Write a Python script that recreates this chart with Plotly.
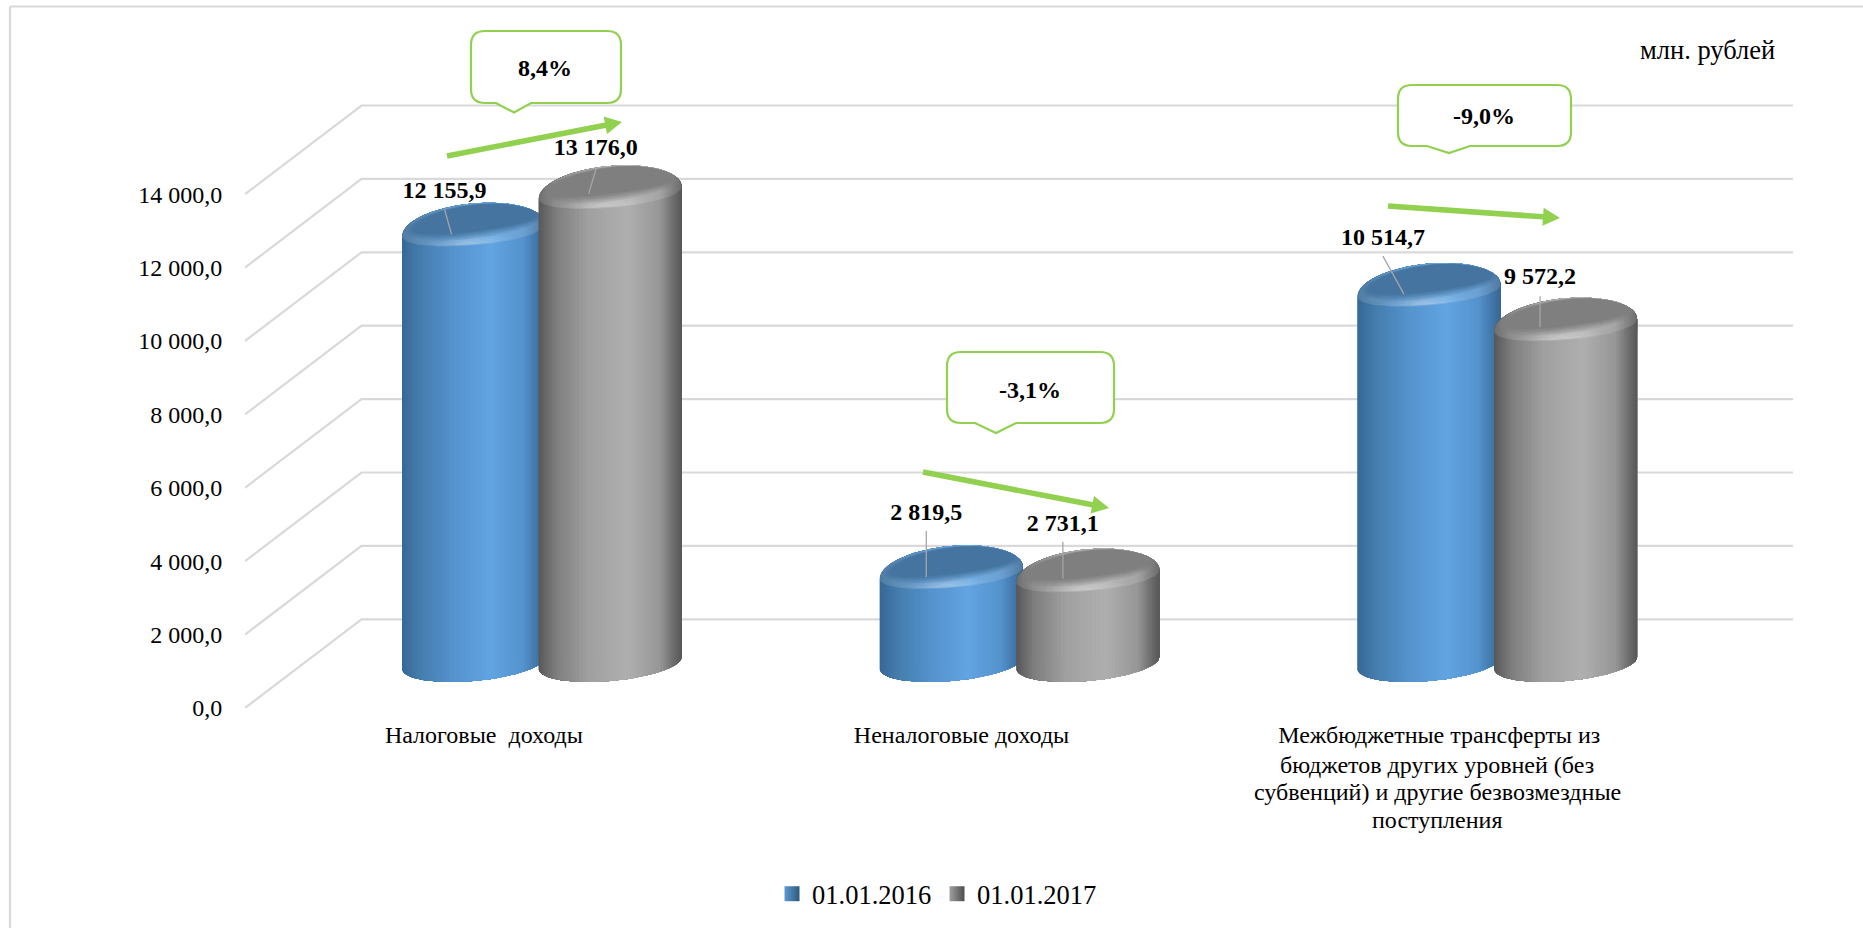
import math
import plotly.graph_objects as go

# ---------- data ----------
category_lines = [["Налоговые\u00a0 доходы"], ["Неналоговые доходы"],
                  ["Межбюджетные трансферты из", "бюджетов других уровней (без",
                   "субвенций) и другие безвозмездные", "поступления"]]
series_names = ["01.01.2016", "01.01.2017"]
values_2016 = [12155.9, 2819.5, 10514.7]
values_2017 = [13176.0, 2731.1, 9572.2]
changes = ["8,4%", "-3,1%", "-9,0%"]
y_ticks = [0, 2000, 4000, 6000, 8000, 10000, 12000, 14000]
unit_label = "млн. рублей"

# ---------- geometry / style (pixels of the page) ----------
W, H = 1863, 928
L, R, T, B = 245, 70, 100, 220
PW, PH = W - L - R, H - T - B
PX_CAT = 477.7          # pixels per category
PX_VAL = 0.0367         # pixels per value unit
FONT = "Liberation Serif"
GRID = "#D9D9D9"
GREEN = "#92D050"
DEPTH_X, DEPTH_Y = 116.5, 88.7
BAR_SHIFT, BAR_OFF, A = 58, 68.3, 71.5
BASE_DROP, TOP_DROP = 45, 37.5
TILT = 6
LINE_STEP = 27.7

def fmt(v):
    return f"{v:,.1f}".replace(",", " ").replace(".", ",")

def dx(px):   # page px -> x data
    return (px - L) / PX_CAT - 0.5

def dy(py):   # page py -> y data
    return (H - B - py) / PX_VAL

def cx_px(c, sign):
    return L + (c + 0.5) * PX_CAT + BAR_SHIFT + sign * BAR_OFF

def paper(px, py):
    return (px - L) / PW, 1 - (py - T) / PH

def lerp(c1, c2, t):
    return tuple(c1[i] + (c2[i] - c1[i]) * t for i in range(3))

def ramp(stops, u):
    for (u0, c0), (u1, c1) in zip(stops, stops[1:]):
        if u <= u1:
            return lerp(c0, c1, (u - u0) / (u1 - u0))
    return stops[-1][1]

def rgb(c):
    return "rgb(%d,%d,%d)" % tuple(round(x) for x in c)

STYLE = [
    dict(stops=[(0, (54, 104, 150)), (0.12, (68, 124, 172)), (0.35, (84, 146, 204)), (0.62, (97, 164, 226)),
                (0.85, (84, 146, 204)), (0.95, (64, 116, 165)), (1, (56, 104, 148))],
         dark="#44749F", legend=("#5B9BD5", "#2F5878")),
    dict(stops=[(0, (88, 88, 88)), (0.12, (125, 125, 125)), (0.35, (160, 160, 160)), (0.62, (175, 175, 175)),
                (0.85, (150, 150, 150)), (0.95, (105, 105, 105)), (1, (88, 88, 88))],
         dark="#7F7F7F", legend=("#A0A0A0", "#4D4D4D")),
]
LABEL_OFFSET = [[(-29, -32), (-25, -53), (-46, -45.5)],
                [(-14.5, -38), (-25, -45.5), (-25.5, -41)]]
LEADER = [[((-29, -15), (-22, 10)), ((-25, -36), (-25, 10)), ((-46, -28.5), (-25, 9.5))],
          [((-13.5, -20), (-21.5, 7)), ((-25, -28.5), (-25, 8.5)), ((-25.5, -23), (-25.5, 8))]]

N = 56
grid_u = [-math.cos(math.pi * i / N) for i in range(N + 1)]

def root(u):
    return math.sqrt(max(0, 1 - u * u))

fig = go.Figure()

# walls: front tick -> back wall -> right end
for v in y_ticks:
    xs = [-0.5, dx(L + DEPTH_X), dx(L + PW)]
    ys = [v, v + DEPTH_Y / PX_VAL, v + DEPTH_Y / PX_VAL]
    fig.add_trace(go.Scatter(x=xs, y=ys, mode="lines", line=dict(color=GRID, width=2.2),
                             hoverinfo="skip", showlegend=False, cliponaxis=False))

def poly(xs, ys, color, opacity=1):
    fig.add_trace(go.Scatter(x=[dx(p) for p in xs], y=[dy(p) for p in ys], mode="lines",
                             fill="toself", fillcolor=color, line=dict(width=0),
                             opacity=opacity, hoverinfo="skip", showlegend=False))

def cylinder(cx, value, st):
    yc = H - B - TOP_DROP - value * PX_VAL
    cs = yc + 6
    base = H - B - BASE_DROP
    up = lambda u: cs - 27 * root(u) - TILT * u
    low = lambda u: cs + 15 * root(u) - TILT * u
    bot = lambda u: base + 18 * root(u) - TILT * u
    # body, painted left to right so that every strip runs under the next one
    for i in range(N):
        us = grid_u[i:]
        xs = [cx + A * u for u in us] + [cx + A * u for u in reversed(us)]
        ys = [up(u) for u in us] + [bot(u) for u in reversed(us)]
        poly(xs, ys, rgb(ramp(st["stops"], (grid_u[i] + grid_u[i + 1] + 2) / 4)))
    # rim of the lid, lighter than the body's dark edges
    poly([cx + A * u for u in grid_u] + [cx + A * u for u in reversed(grid_u)],
         [up(u) for u in grid_u] + [low(u) for u in reversed(grid_u)], "#FFFFFF", 0.13)
    # soft highlight along the front rim
    for half, thick, op in ((0.62, 10, 0.05), (0.48, 8, 0.06), (0.34, 6, 0.08), (0.2, 4, 0.10)):
        hl = [-0.08 - half + 2 * half * i / 30 for i in range(31)]
        poly([cx + A * u for u in hl] + [cx + A * u for u in reversed(hl)],
             [low(u) - 1 for u in hl] +
             [low(u) - 1 - thick * math.sin(math.pi * (u + 0.08 + half) / (2 * half)) for u in reversed(hl)],
             "#FFFFFF", op)
    # darker lid, nested layers fade its edge; each stays inside the silhouette
    for grow, op in ((8, 0.2), (6, 0.25), (4, 0.35), (2, 0.5), (0, 1)):
        f = 0.86 + 0.9 * grow / A
        xs, ys = [], []
        for u in grid_u:
            w = 1 + (u * f) / 1 - 1
            xs.append(cx + 1 + A * f * u)
            ys.append(max(cs - 7 - (18.5 + grow * 0.18) * root(u) - 8.5 * w, up(w) + 0.6))
        for u in reversed(grid_u):
            w = u * f
            xs.append(cx + 1 + A * f * u)
            ys.append(max(cs - 7 + (8 + grow * 0.9) * root(u) - 8.5 * w, up(w) + 0.6))
        poly(xs, ys, st["dark"], op)

for c in range(len(category_lines)):
    cylinder(cx_px(c, -1), values_2016[c], STYLE[0])
    cylinder(cx_px(c, 1), values_2017[c], STYLE[1])

# leader lines and value labels
for s, vals in enumerate((values_2016, values_2017)):
    sign = -1 if s == 0 else 1
    lab_x, lab_y, lab_t = [], [], []
    for c, v in enumerate(vals):
        cx = cx_px(c, sign)
        yc = H - B - TOP_DROP - v * PX_VAL
        (a, b) = LEADER[s][c]
        fig.add_trace(go.Scatter(x=[dx(cx + a[0]), dx(cx + b[0])], y=[dy(yc + a[1]), dy(yc + b[1])],
                                 mode="lines", line=dict(color="#A6A6A6", width=1.3),
                                 hoverinfo="skip", showlegend=False))
        ox, oy = LABEL_OFFSET[s][c]
        lab_x.append(dx(cx + ox)); lab_y.append(dy(yc + oy)); lab_t.append(fmt(v))
    fig.add_trace(go.Scatter(x=lab_x, y=lab_y, text=["<b>%s</b>" % t for t in lab_t], mode="text",
                             textposition="middle center", cliponaxis=False,
                             textfont=dict(family=FONT, size=24, color="#000000"),
                             hoverinfo="skip", showlegend=False))

# legend entries
for name, st in zip(series_names, STYLE):
    fig.add_trace(go.Scatter(x=[None], y=[None], mode="markers", name=name,
                             marker=dict(symbol="square", size=15, color=st["legend"][0],
                                         gradient=dict(type="horizontal", color=st["legend"][1]),
                                         line=dict(width=0))))

# ---------- callouts, arrows, frame ----------
def pt(px, py):
    a, b = paper(px, py)
    return f"{a:.5f},{b:.5f}"

def callout(x0, y0, x1, y1, t0, t1, tipx, tipy, r=14):
    return ("M" + pt(x0 + r, y0) + " L" + pt(x1 - r, y0) + " Q" + pt(x1, y0) + " " + pt(x1, y0 + r) +
            " L" + pt(x1, y1 - r) + " Q" + pt(x1, y1) + " " + pt(x1 - r, y1) +
            " L" + pt(t1, y1) + " L" + pt(tipx, tipy) + " L" + pt(t0, y1) +
            " L" + pt(x0 + r, y1) + " Q" + pt(x0, y1) + " " + pt(x0, y1 - r) +
            " L" + pt(x0, y0 + r) + " Q" + pt(x0, y0) + " " + pt(x0 + r, y0) + " Z")

def arrow(x0, y0, x1, y1, w=5.5, hw=18, hl=17):
    ln = math.hypot(x1 - x0, y1 - y0)
    ux, uy = (x1 - x0) / ln, (y1 - y0) / ln
    nx, ny = -uy, ux
    bx, by = x1 - ux * hl, y1 - uy * hl
    P = [(x0 + nx * w / 2, y0 + ny * w / 2), (bx + nx * w / 2, by + ny * w / 2),
         (bx + nx * hw / 2, by + ny * hw / 2), (x1, y1), (bx - nx * hw / 2, by - ny * hw / 2),
         (bx - nx * w / 2, by - ny * w / 2), (x0 - nx * w / 2, y0 - ny * w / 2)]
    return "M" + " L".join(pt(a, b) for a, b in P) + " Z"

BOXES = [(471, 31, 621, 103, 496, 531, 514, 112.5, 545, 68),
         (947, 352, 1114, 423, 975, 1016, 996, 433, 1030, 390),
         (1398, 85, 1571, 146, 1427, 1470, 1449, 153, 1484, 116)]
ARROWS = [(447, 156, 622, 122), (923, 472, 1109, 508), (1388, 206, 1560, 218)]

shapes, notes = [], []
for (x0, y0, x1, y1, t0, t1, tx, ty, lx, ly), txt, ar in zip(BOXES, changes, ARROWS):
    shapes.append(dict(type="path", xref="paper", yref="paper", path=callout(x0, y0, x1, y1, t0, t1, tx, ty),
                       fillcolor="#FFFFFF", line=dict(color=GREEN, width=2.2), layer="above"))
    shapes.append(dict(type="path", xref="paper", yref="paper", path=arrow(*ar),
                       fillcolor=GREEN, line=dict(width=0), layer="above"))
    ax, ay = paper(lx, ly)
    notes.append(dict(xref="paper", yref="paper", x=ax, y=ay, text="<b>%s</b>" % txt, showarrow=False,
                      xanchor="center", yanchor="middle", font=dict(family=FONT, size=24, color="#000")))
ax, ay = paper(1707, 50)
notes.append(dict(xref="paper", yref="paper", x=ax, y=ay, text=unit_label, showarrow=False,
                  xanchor="center", yanchor="middle", font=dict(family=FONT, size=26.5, color="#000")))
# continuation lines of the long category label (tick text cannot tighten its line spacing)
for c, lines in enumerate(category_lines):
    for i, line in enumerate(lines[1:], start=1):
        ax, ay = paper(L + (c + 0.5) * PX_CAT - 2, 737 + i * LINE_STEP)
        notes.append(dict(xref="paper", yref="paper", x=ax, y=ay, text=line, showarrow=False,
                          xanchor="center", yanchor="middle", font=dict(family=FONT, size=24, color="#000")))
for a, b, c, d in ((10, 6.5, W + 5, 6.5), (10, 6.5, 10, H + 5)):
    p0, p1 = paper(a, b), paper(c, d)
    shapes.append(dict(type="line", xref="paper", yref="paper", x0=p0[0], y0=p0[1], x1=p1[0], y1=p1[1],
                       line=dict(color=GRID, width=2.2), layer="below"))

leg_x, leg_y = paper(772, 894)
fig.update_layout(
    width=W, height=H, margin=dict(l=L, r=R, t=T, b=B, autoexpand=False),
    paper_bgcolor="#FFFFFF", plot_bgcolor="rgba(0,0,0,0)",
    shapes=shapes, annotations=notes, hovermode=False,
    font=dict(family=FONT, color="#000000"),
    xaxis=dict(range=[-0.5, dx(L + PW)], tickmode="array", tickvals=list(range(len(category_lines))),
               ticktext=[lines[0] for lines in category_lines], tickangle=0, showgrid=False, zeroline=False,
               showline=False, ticks="outside", ticklen=5, tickcolor="rgba(0,0,0,0)",
               tickfont=dict(family=FONT, size=24)),
    yaxis=dict(range=[0, PH / PX_VAL], tickmode="array", tickvals=y_ticks, ticktext=[fmt(v) for v in y_ticks],
               showgrid=False, zeroline=False, showline=False,
               ticks="outside", ticklen=17, tickcolor="rgba(0,0,0,0)", tickfont=dict(family=FONT, size=24)),
    legend=dict(orientation="h", x=leg_x, y=leg_y, xanchor="left", yanchor="middle",
                font=dict(family=FONT, size=26.5), entrywidth=120, entrywidthmode="pixels",
                itemclick=False, itemdoubleclick=False, bgcolor="rgba(0,0,0,0)"),
)

fig.write_html("out.html", config=dict(displayModeBar=False),
               post_script="document.body.style.margin='0';document.body.style.overflow='hidden';")
